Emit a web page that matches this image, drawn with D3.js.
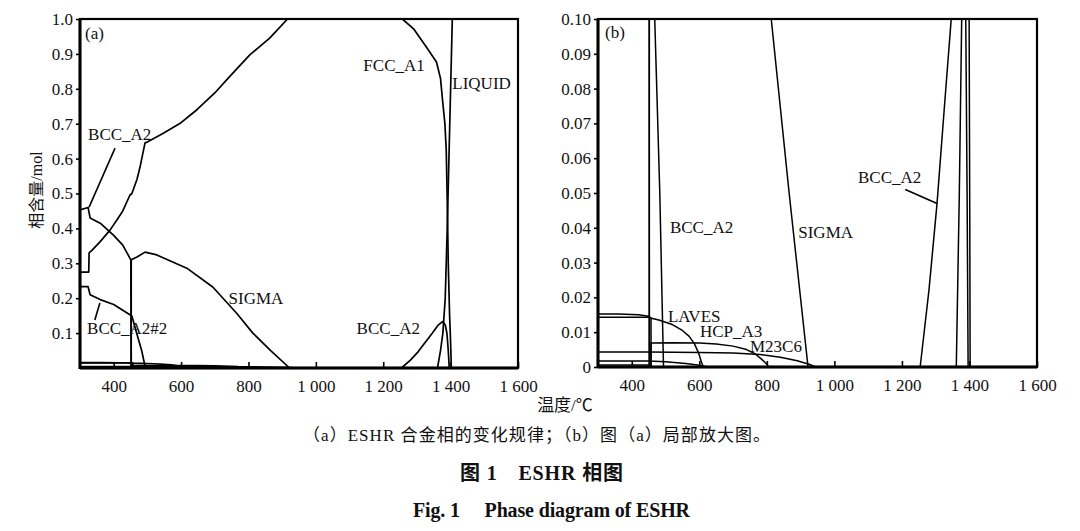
<!DOCTYPE html>
<html><head><meta charset="utf-8">
<script src="https://cdn.jsdelivr.net/npm/d3@7/dist/d3.min.js"></script>
<style>
html,body{margin:0;padding:0;background:#fff;}
svg{display:block;}
text{font-family:"Liberation Serif","Noto Sans CJK SC",serif;fill:#111;}
</style></head>
<body>
<svg id="c" width="1080" height="531"></svg>
<script>
// ---------- DATA ----------
const xTicks = [400, 600, 800, 1000, 1200, 1400, 1600];
const xTickLabels = ["400", "600", "800", "1 000", "1 200", "1 400", "1 600"];
const yTicksA = [0.1, 0.2, 0.3, 0.4, 0.5, 0.6, 0.7, 0.8, 0.9, 1.0];
const yTickLabelsA = ["0.1", "0.2", "0.3", "0.4", "0.5", "0.6", "0.7", "0.8", "0.9", "1.0"];
const yTicksB = [0, 0.01, 0.02, 0.03, 0.04, 0.05, 0.06, 0.07, 0.08, 0.09, 0.10];
const yTickLabelsB = ["0", "0.01", "0.02", "0.03", "0.04", "0.05", "0.06", "0.07", "0.08", "0.09", "0.10"];

// phase amounts [temperature °C, mol]
const fccA1 = [[300,0.275],[326,0.275],[327,0.33],[336,0.338],[360,0.362],[389,0.395],[410,0.425],[427,0.45],[448,0.495],[454,0.50],[469,0.54],[478,0.575],[493,0.645],[501,0.648],[546,0.672],[600,0.703],[647,0.74],[700,0.788],[744,0.835],[804,0.897],[863,0.945],[916,1.0],[1257,1.0],[1290,0.972],[1328,0.92],[1358,0.877],[1370,0.83],[1376,0.768],[1383,0.70],[1387,0.625],[1390,0.48],[1393,0.30],[1397,0.15],[1399,0.10],[1401,0.04],[1402,0]];
const liquid = [[1361,0],[1370,0.05],[1377,0.10],[1384,0.20],[1390,0.40],[1395,0.60],[1400,0.80],[1405,1.0]];
const bccA2Low = [[300,0.453],[324,0.46],[330,0.43],[360,0.415],[400,0.38],[427,0.352],[448,0.315],[451,0.31],[452,0]];
const bccA2High = [[1254,0],[1280,0.022],[1304,0.047],[1326,0.075],[1346,0.10],[1362,0.122],[1376,0.133],[1384,0.124],[1389,0.10],[1393,0.05],[1396,0]];
const bccA2n2 = [[300,0.233],[324,0.233],[330,0.21],[360,0.196],[400,0.182],[454,0.149],[468,0.10],[483,0.05],[494,0]];
const sigma = [[452,0],[452,0.31],[469,0.318],[493,0.332],[528,0.324],[617,0.286],[694,0.232],[765,0.157],[813,0.10],[866,0.05],[922,0]];
const laves = [[300,0.0152],[360,0.0152],[420,0.0150],[450,0.0146],[458,0.0140],[480,0.0135],[520,0.0122],[550,0.0105],[570,0.0088],[585,0.0068],[598,0.0040],[606,0.0015],[612,0]];
const minor1 = [[300,0.0143],[450,0.0143],[457,0.0140],[457,0]];
const hcpA3 = [[457,0],[457,0.0069],[520,0.0070],[600,0.0069],[650,0.0066],[700,0.0060],[740,0.0050],[765,0.0038],[785,0.0022],[800,0.0008],[805,0]];
const m23c6 = [[300,0.0043],[450,0.0043],[600,0.0042],[700,0.0040],[780,0.0036],[840,0.0028],[890,0.0018],[925,0.0008],[945,0]];
const minor2 = [[300,0.0017],[450,0.0017],[500,0.0015],[560,0.0010],[600,0.0005],[625,0]];
const minor3 = [[300,0.0006],[450,0.0006],[452,0]];

const phases = [fccA1, liquid, bccA2Low, bccA2High, bccA2n2, sigma, laves, minor1, hcpA3, m23c6, minor2, minor3];

// annotation text anchored in data coordinates
const labelsA = [["(a)",315,0.943],["FCC_A1",1141,0.851],["LIQUID",1405,0.799],["BCC_A2",324,0.653],["SIGMA",741,0.183],["BCC_A2#2",321,0.097],["BCC_A2",1121,0.097]];
const leadersA = [[[404,0.630],[327,0.461]],[[359,0.186],[344,0.1375]]];
const labelsB = [["(b)",321,0.0945],["BCC_A2",513,0.0386],["SIGMA",893,0.0372],["BCC_A2",1070,0.053],["LAVES",507,0.0130],["HCP_A3",602,0.00865],["M23C6",750,0.0043]];
const leadersB = [[[1210,0.051],[1304,0.047]]];

const captions = ["（a）ESHR 合金相的变化规律；（b）图（a）局部放大图。", "图 1　ESHR 相图", "Fig. 1　 Phase diagram of ESHR"];

// ---------- DRAW ----------
const svg = d3.select("#c");
const xDomain = [300, 1600];

function panel(id, left, right, top, bottom, yMax, yTicks, yLabels, labels, leaders, sw) {
  const x = d3.scaleLinear().domain(xDomain).range([left, right]);
  const y = d3.scaleLinear().domain([0, yMax]).range([bottom, top]);
  const g = svg.append("g");
  svg.append("clipPath").attr("id", id).append("rect")
    .attr("x", left).attr("y", top).attr("width", right - left).attr("height", bottom - top);
  const line = d3.line().x(d => x(d[0])).y(d => y(d[1]));
  const cg = g.append("g").attr("clip-path", `url(#${id})`);
  phases.forEach(p => cg.append("path").attr("d", line(p))
    .attr("fill", "none").attr("stroke", "#000").attr("stroke-width", sw).attr("stroke-linejoin", "round"));
  // axes
  const xa = d3.axisBottom(x).tickValues(xTicks).tickFormat((d, i) => xTickLabels[i]).tickSizeInner(-6).tickSizeOuter(0).tickPadding(12);
  const gx = g.append("g").attr("transform", `translate(0,${bottom})`).call(xa);
  gx.select(".domain").remove();
  gx.selectAll("line").attr("stroke", "#000").attr("stroke-width", 1.6);
  gx.selectAll("text").attr("font-size", 17).attr("fill", "#111").attr("font-family", "Liberation Serif");
  const ya = d3.axisLeft(y).tickValues(yTicks).tickFormat((d, i) => yLabels[i]).tickSizeInner(4).tickSizeOuter(0).tickPadding(3);
  const gy = g.append("g").attr("transform", `translate(${left},0)`).call(ya);
  gy.select(".domain").remove();
  gy.selectAll("line").attr("stroke", "#000").attr("stroke-width", 1.6);
  gy.selectAll("text").attr("font-size", 17).attr("fill", "#111").attr("font-family", "Liberation Serif");
  // frame
  g.append("rect").attr("x", left).attr("y", top).attr("width", right - left).attr("height", bottom - top)
    .attr("fill", "none").attr("stroke", "#000").attr("stroke-width", 2.2);
  g.append("line").attr("x1", left).attr("x2", left).attr("y1", top).attr("y2", bottom + 1).attr("stroke", "#000").attr("stroke-width", 3);
  g.append("line").attr("x1", left).attr("x2", right).attr("y1", bottom).attr("y2", bottom).attr("stroke", "#000").attr("stroke-width", 3);
  // annotations
  leaders.forEach(l => g.append("line").attr("x1", x(l[0][0])).attr("y1", y(l[0][1])).attr("x2", x(l[1][0])).attr("y2", y(l[1][1]))
    .attr("stroke", "#000").attr("stroke-width", 1.6));
  labels.forEach(l => g.append("text").attr("x", x(l[1])).attr("y", y(l[2])).attr("font-size", 17).text(l[0]));
}

panel("clipA", 80, 518, 19, 368, 1.0, yTicksA, yTickLabelsA, labelsA, leadersA, 1.7);
panel("clipB", 598, 1037, 19, 367, 0.10, yTicksB, yTickLabelsB, labelsB, leadersB, 1.5);

// axis titles
svg.append("text").attr("transform", "translate(42,190) rotate(-90)").attr("text-anchor", "middle")
  .attr("font-size", 16).text("相含量/mol");
svg.append("text").attr("x", 565).attr("y", 411).attr("text-anchor", "middle").attr("font-size", 17).text("温度/℃");

// captions
svg.append("text").attr("x", 303).attr("y", 441).attr("font-size", 17)
  .attr("textLength", 467).attr("lengthAdjust", "spacing").text(captions[0]);
svg.append("text").attr("x", 460).attr("y", 480).attr("font-size", 20).attr("font-weight", "bold")
  .attr("textLength", 163).attr("lengthAdjust", "spacing").text(captions[1]);
svg.append("text").attr("x", 413).attr("y", 517).attr("font-size", 20).attr("font-weight", "bold")
  .attr("textLength", 277).attr("lengthAdjust", "spacing").text(captions[2]);
</script>
</body></html>
